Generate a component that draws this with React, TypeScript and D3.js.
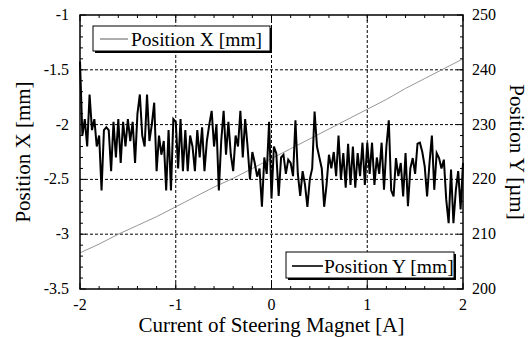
import React from "react";
import * as d3 from "d3";

// Position X [mm], sampled every 0.2 A
const currentX = [-2, -1.8, -1.6, -1.4, -1.2, -1, -0.8, -0.6, -0.4, -0.2, 0, 0.2, 0.4, 0.6, 0.8, 1, 1.2, 1.4, 1.6, 1.8, 2];
const positionX = [-3.17, -3.09, -3.0, -2.92, -2.84, -2.75, -2.66, -2.57, -2.49, -2.4, -2.31, -2.22, -2.13, -2.04, -1.95, -1.86, -1.77, -1.67, -1.58, -1.49, -1.4];

// Position Y [um], sampled every 0.025 A from -2 to 2
const positionY = [
  241.5, 228, 231, 226, 235.5, 229, 231, 226, 228, 218,
  229, 229.5, 229, 221.5, 230.5, 224, 231, 223, 230.5, 226,
  231, 227, 230.5, 223, 232, 235.5, 228, 226, 235.5, 227,
  230, 234, 221.5, 228, 224.5, 227, 218, 229, 218, 231,
  230.5, 222, 231, 221.5, 229, 221.5, 228, 226, 221.5, 229,
  224, 229.5, 221.5, 227, 230, 232.5, 226, 230, 218, 227,
  232.5, 224.5, 230.5, 224.5, 221.5, 228, 226, 232.5, 224, 231,
  226, 220, 225, 223, 220.5, 222, 215, 224, 221, 230.5,
  216.5, 226, 224.8, 217, 224, 224.5, 221, 223.6, 223, 220.6,
  230.8, 221, 217, 221.5, 219, 215, 220, 222, 232.4, 226,
  224, 222, 215, 219, 224.5, 222, 225, 220.6, 228, 220,
  224.8, 218.5, 226.5, 219, 226, 218.5, 224.8, 220.6, 226.7, 219,
  226.7, 221, 226.7, 219, 224, 221, 226.7, 218.1, 226, 230.8,
  218, 216.9, 223.9, 220.6, 223, 216.9, 224.8, 215.1, 222, 223.9,
  221, 226.5, 226.7, 225, 222.4, 216.9, 223, 228, 218.1, 224.8,
  223.9, 222, 223.6, 216.3, 212, 221.8, 212, 218, 221.5, 214.5,
  223,
];
const currentY = positionY.map((_, i) => Math.round((-2 + i * 0.025) * 1000) / 1000);

const xTicks = [-2, -1, 0, 1, 2];
const leftTicks = [-3.5, -3, -2.5, -2, -1.5, -1];
const rightTicks = [200, 210, 220, 230, 240, 250];

const W = 529;
const H = 337;
const L = 80;
const R = 463;
const T = 15;
const B = 289;
const font = "Liberation Serif, Times New Roman, serif";

export default function App() {
  const x = d3.scaleLinear().domain([-2, 2]).range([L, R]);
  const yL = d3.scaleLinear().domain([-3.5, -1]).range([B, T]);
  const yR = d3.scaleLinear().domain([200, 250]).range([B, T]);

  const lineX = d3
    .line<number>()
    .x((_, i) => x(currentX[i]))
    .y((d) => yL(d));
  const lineY = d3
    .line<number>()
    .x((_, i) => x(currentY[i]))
    .y((d) => yR(d));

  const xMinor = d3.range(0, 21).map((i) => -2 + i * 0.2);
  const lMinor = d3.range(0, 26).map((i) => -3.5 + i * 0.1);
  const rMinor = d3.range(0, 26).map((i) => 200 + i * 2);

  const txt = { fontFamily: font };

  return (
    <svg width={W} height={H} style={{ position: "absolute", left: 0, top: 0, background: "#fff" }}>
      <rect x={0} y={0} width={W} height={H} fill="#fff" />
      {/* grid */}
      <g stroke="#000" strokeWidth={1} strokeDasharray="3,2">
        {xTicks.slice(1, -1).map((t) => (
          <line key={"gx" + t} x1={x(t)} x2={x(t)} y1={T} y2={B} />
        ))}
        {leftTicks.slice(1, -1).map((t) => (
          <line key={"gy" + t} x1={L} x2={R} y1={yL(t)} y2={yL(t)} />
        ))}
      </g>
      {/* ticks */}
      <g stroke="#000" strokeWidth={1}>
        {xMinor.map((t, i) => {
          const len = i % 5 === 0 ? 6 : 3;
          return (
            <g key={"xt" + i}>
              <line x1={x(t)} x2={x(t)} y1={B} y2={B - len} />
              <line x1={x(t)} x2={x(t)} y1={T} y2={T + len} />
            </g>
          );
        })}
        {lMinor.map((t, i) => (
          <line key={"lt" + i} x1={L} x2={L + (i % 5 === 0 ? 6 : 3)} y1={yL(t)} y2={yL(t)} />
        ))}
        {rMinor.map((t, i) => (
          <line key={"rt" + i} x1={R} x2={R - (i % 5 === 0 ? 6 : 3)} y1={yR(t)} y2={yR(t)} />
        ))}
      </g>
      {/* series */}
      <path d={lineX(positionX) || ""} fill="none" stroke="#8a8a8a" strokeWidth={0.9} />
      <path d={lineY(positionY) || ""} fill="none" stroke="#000" strokeWidth={2} strokeLinejoin="miter" />
      {/* frame */}
      <rect x={L} y={T} width={R - L} height={B - T} fill="none" stroke="#000" strokeWidth={1.5} />
      {/* tick labels */}
      {xTicks.map((t) => (
        <text key={"xl" + t} x={x(t)} y={B + 21} textAnchor="middle" fontSize={16} style={txt}>
          {t}
        </text>
      ))}
      {leftTicks.map((t) => (
        <text key={"ll" + t} x={L - 11} y={yL(t) + 5} textAnchor="end" fontSize={16} style={txt}>
          {t}
        </text>
      ))}
      {rightTicks.map((t) => (
        <text key={"rl" + t} x={R + 9} y={yR(t) + 5} textAnchor="start" fontSize={16} style={txt}>
          {t}
        </text>
      ))}
      {/* axis titles */}
      <text x={(L + R) / 2} y={332} textAnchor="middle" fontSize={21} style={txt}>
        Current of Steering Magnet [A]
      </text>
      <text transform={`translate(30,${(T + B) / 2}) rotate(-90)`} textAnchor="middle" fontSize={21} style={txt}>
        Position X [mm]
      </text>
      <text transform={`translate(510,${(T + B) / 2}) rotate(90)`} textAnchor="middle" fontSize={21} style={txt}>
        Position Y [µm]
      </text>
      {/* legend X */}
      <rect x={95} y={28} width={177} height={25} fill="#000" />
      <rect x={93} y={26} width={177} height={25} fill="#fff" stroke="#000" strokeWidth={1} />
      <line x1={100} x2={128} y1={39} y2={39} stroke="#333" strokeWidth={0.8} />
      <text x={131} y={45.5} fontSize={19.5} style={txt}>
        Position X [mm]
      </text>
      {/* legend Y */}
      <rect x={288} y={254} width={168} height={26} fill="#000" />
      <rect x={286} y={252} width={168} height={26} fill="#fff" stroke="#000" strokeWidth={1} />
      <line x1={292} x2={323} y1={266} y2={266} stroke="#000" strokeWidth={1.6} />
      <text x={324} y={272.5} fontSize={19.5} style={txt}>
        Position Y [mm]
      </text>
    </svg>
  );
}
